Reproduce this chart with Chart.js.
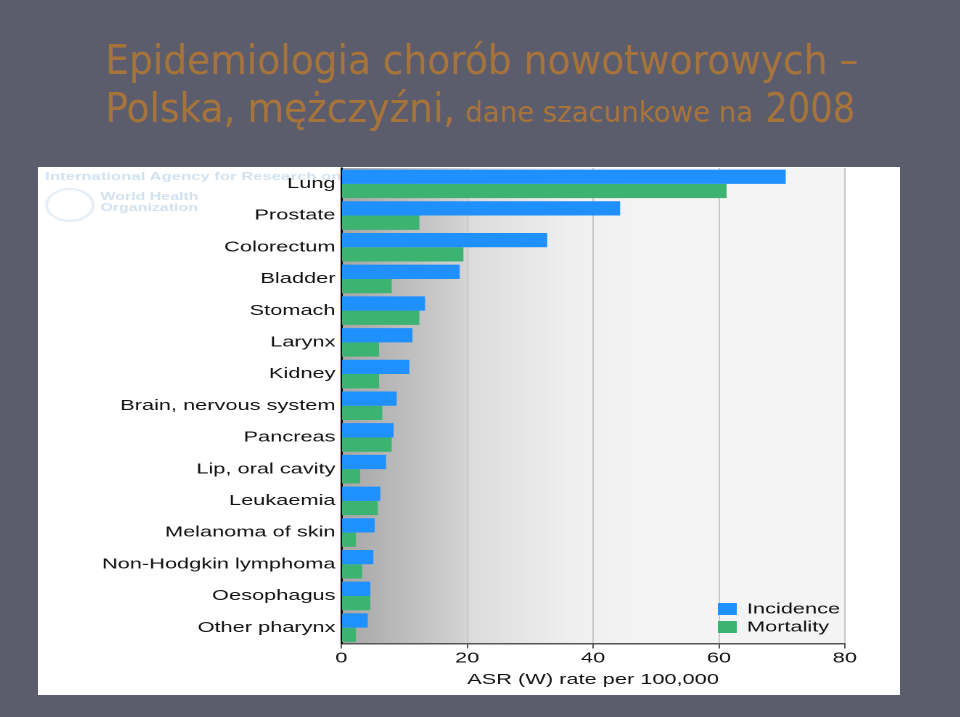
<!DOCTYPE html>
<html>
<head>
<meta charset="utf-8">
<script src="https://cdn.jsdelivr.net/npm/chart.js@4.4.1/dist/chart.umd.min.js"></script>
<style>
  body { margin: 0; background: #5b5d6d; width: 960px; height: 717px; overflow: hidden; position: relative; font-family: "DejaVu Sans", sans-serif; }
  .t { position: absolute; color: #a6743b; white-space: nowrap; line-height: 1; transform-origin: 0 0; }
  #box { position: absolute; left: 38px; top: 167px; width: 862px; height: 528px; background: #fff; overflow: hidden; }
  #inner { position: absolute; left: 0; top: 0; width: 594px; height: 528px; transform: scaleX(1.4512); transform-origin: 0 0; }
  .wm { position: absolute; color: #d3e2ef; font-family: "Liberation Sans", Arial, sans-serif; font-weight: bold; white-space: nowrap; line-height: 1; }
  #emblem { position: absolute; left: 5px; top: 21px; width: 30px; height: 30px; border: 2px solid #e6eef5; border-radius: 50%; }
  #cwrap { position: absolute; left: 0; top: 0; width: 594px; height: 528px; }
</style>
</head>
<body>

<div class="t" style="left:105px; top:40px; font-size:41px;" data-w="753">Epidemiologia chorób nowotworowych –</div>
<div class="t" style="left:105px; top:88px; font-size:41px;" data-w="350">Polska, mężczyźni,</div>
<div class="t" style="left:465px; top:99px; font-size:28px;" data-w="288">dane szacunkowe na</div>
<div class="t" style="left:765px; top:88px; font-size:41px;" data-w="90">2008</div>

<div id="box">
  <div id="inner">
    <div class="wm" style="left:5px; top:4px; font-size:11.5px;">International Agency for Research on Cancer</div>
    <div id="emblem"></div>
    <div class="wm" style="left:43px; top:24px; font-size:11px;">World Health</div>
    <div class="wm" style="left:43px; top:35px; font-size:11px;">Organization</div>
    <div id="cwrap"><canvas id="myChart"></canvas></div>
  </div>
</div>

<script>
// data (ASR (W) per 100,000)
var categories = ["Lung", "Prostate", "Colorectum", "Bladder", "Stomach", "Larynx", "Kidney",
  "Brain, nervous system", "Pancreas", "Lip, oral cavity", "Leukaemia", "Melanoma of skin",
  "Non-Hodgkin lymphoma", "Oesophagus", "Other pharynx"];
var incidence = [70.6, 44.3, 32.7, 18.8, 13.3, 11.3, 10.8, 8.8, 8.3, 7.1, 6.2, 5.3, 5.1, 4.6, 4.2];
var mortality = [61.2, 12.4, 19.4, 8.0, 12.4, 6.0, 6.0, 6.5, 8.0, 3.0, 5.8, 2.3, 3.3, 4.6, 2.3];
var seriesNames = ["Incidence", "Mortality"];
var seriesColors = ["#1e90ff", "#3cb371"];
var xTicks = [0, 20, 40, 60, 80];
var xTitle = "ASR (W) rate per 100,000";

var labelFont = { family: "'Liberation Sans', Arial, sans-serif", size: 15 };

// squeeze the title pieces to the widths they have on the slide
var pieces = document.querySelectorAll(".t");
for (var i = 0; i < pieces.length; i++) {
  var w = pieces[i].getBoundingClientRect().width;
  pieces[i].style.transform = "scaleX(" + (parseFloat(pieces[i].dataset.w) / w) + ")";
}

// grey-to-white fade behind the bars
var plotBackground = {
  id: "plotBackground",
  beforeDraw: function(chart) {
    var ctx = chart.ctx, a = chart.chartArea;
    var g = ctx.createLinearGradient(a.left, 0, a.right, 0);
    g.addColorStop(0, "#a6a6a6");
    g.addColorStop(0.24, "#d2d2d2");
    g.addColorStop(0.26, "#dcdcdc");
    g.addColorStop(0.45, "#efefef");
    g.addColorStop(0.6, "#f4f4f4");
    g.addColorStop(1, "#f4f4f4");
    ctx.save();
    ctx.fillStyle = g;
    ctx.fillRect(a.left, a.top, a.right - a.left, a.bottom - a.top);
    ctx.restore();
  }
};

// legend sits inside the plot, bottom right
var innerLegend = {
  id: "innerLegend",
  afterDatasetsDraw: function(chart) {
    var ctx = chart.ctx, a = chart.chartArea;
    ctx.save();
    ctx.font = labelFont.size + "px " + labelFont.family;
    ctx.textBaseline = "middle";
    ctx.textAlign = "left";
    chart.data.datasets.forEach(function(ds, k) {
      var y = a.bottom - 40.5 + k * 18;
      ctx.fillStyle = ds.backgroundColor;
      ctx.fillRect(a.right - 87.5, y, 13, 12);
      ctx.fillStyle = "#111";
      ctx.fillText(ds.label, a.right - 67.5, y + 6.5);
    });
    ctx.restore();
  }
};

var ctx = document.getElementById("myChart").getContext("2d");
var chart = new Chart(ctx, {
  type: "bar",
  data: {
    labels: categories,
    datasets: [
      { label: seriesNames[0], data: incidence, backgroundColor: seriesColors[0], borderWidth: 0, barPercentage: 1, categoryPercentage: 0.9 },
      { label: seriesNames[1], data: mortality, backgroundColor: seriesColors[1], borderWidth: 0, barPercentage: 1, categoryPercentage: 0.9 }
    ]
  },
  options: {
    indexAxis: "y",
    responsive: true,
    maintainAspectRatio: false,
    devicePixelRatio: 2,
    animation: false,
    layout: { padding: { top: 1, right: 38, left: 0, bottom: 0 } },
    plugins: { legend: { display: false }, tooltip: { enabled: false } },
    scales: {
      x: {
        min: xTicks[0],
        max: xTicks[xTicks.length - 1],
        afterBuildTicks: function(s) { s.ticks = xTicks.map(function(v) { return { value: v }; }); },
        ticks: { color: "#111", font: labelFont, padding: 1, maxRotation: 0 },
        grid: {
          color: function(c) { return c.tick && c.tick.value === 0 ? "rgba(0,0,0,0)" : "#c8c8c8"; },
          tickColor: "#555",
          tickLength: 5,
          lineWidth: 1
        },
        border: { color: "#555", width: 1.5 },
        title: { display: true, text: xTitle, color: "#111", font: labelFont, padding: { top: 0, bottom: 6 } },
        afterFit: function(s) { s.height = 51.5; }
      },
      y: {
        grid: { display: false, drawTicks: false },
        border: { color: "#000", width: 1.5 },
        ticks: { color: "#111", font: labelFont, padding: 4, autoSkip: false },
        afterFit: function(s) { s.width = 209; s.paddingTop = 0; s.paddingBottom = 0; }
      }
    }
  },
  plugins: [plotBackground, innerLegend]
});
</script>
</body>
</html>
